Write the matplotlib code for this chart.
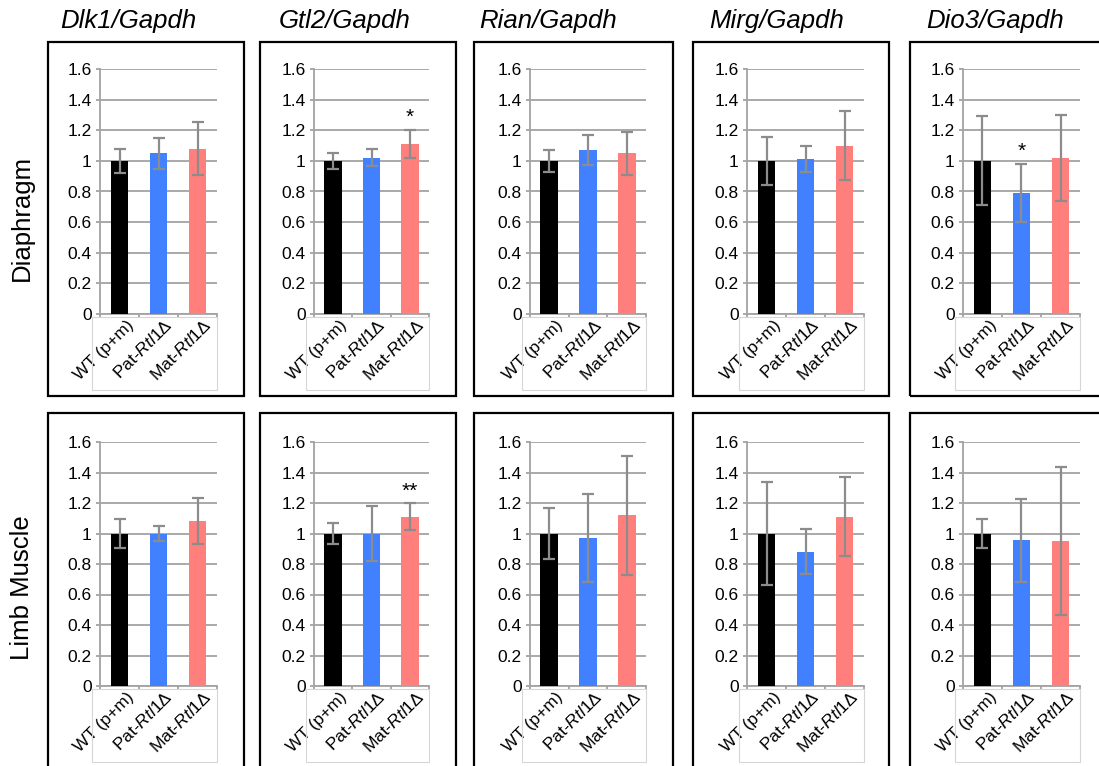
import matplotlib
matplotlib.use("Agg")
import matplotlib.pyplot as plt
from matplotlib.patches import Rectangle
import numpy as np

plt.rcParams['font.family'] = ['Liberation Sans', 'DejaVu Sans']
plt.rcParams['mathtext.fontset'] = 'custom'
plt.rcParams['mathtext.rm'] = 'Liberation Sans'
plt.rcParams['mathtext.it'] = 'Liberation Sans:italic'

genes = ['Dlk1', 'Gtl2', 'Rian', 'Mirg', 'Dio3']
tissues = ['Diaphragm', 'Limb Muscle']
groups = ['WT (p+m)', 'Pat-$\\it{Rtl1}$\u0394', 'Mat-$\\it{Rtl1}$\u0394']
bar_colors = ['#000000', '#4181FF', '#FF7F7D']

diaphragm_means = [[1.00, 1.05, 1.08], [1.00, 1.02, 1.11], [1.00, 1.07, 1.05],
                   [1.00, 1.01, 1.10], [1.00, 0.79, 1.02]]
diaphragm_err = [[0.08, 0.10, 0.175], [0.05, 0.055, 0.09], [0.07, 0.10, 0.14],
                 [0.155, 0.085, 0.225], [0.29, 0.19, 0.28]]
diaphragm_sig = [['', '', ''], ['', '', '*'], ['', '', ''], ['', '', ''], ['', '*', '']]

limb_means = [[1.00, 1.00, 1.08], [1.00, 1.00, 1.11], [1.00, 0.97, 1.12],
              [1.00, 0.88, 1.11], [1.00, 0.955, 0.95]]
limb_err = [[0.095, 0.048, 0.15], [0.07, 0.18, 0.088], [0.17, 0.29, 0.39],
            [0.335, 0.147, 0.258], [0.096, 0.27, 0.487]]
limb_sig = [['', '', ''], ['', '', '**'], ['', '', ''], ['', '', ''], ['', '', '']]

yticks = [0, 0.2, 0.4, 0.6, 0.8, 1, 1.2, 1.4, 1.6]
ytick_labels = ['0', '0.2', '0.4', '0.6', '0.8', '1', '1.2', '1.4', '1.6']

W, H = 1099, 766
fig = plt.figure(figsize=(W / 100, H / 100), dpi=100)

# layout in pixels
axis_x = [(100, 217), (314, 429), (530, 646), (747, 864), (963, 1080)]
row_y = [(69, 314), (442, 686)]
box_x = [(48, 244), (260, 456), (474, 673), (693, 889), (910, 1110)]
box_y = [(42, 396), (413, 780)]
title_x = [60, 279, 479, 709, 926]

grid_c = '#A3A3A3'
err_c = '#8C8C8C'

def fx(x):
    return x / W

def fy(y):
    return 1 - y / H

all_means = [diaphragm_means, limb_means]
all_err = [diaphragm_err, limb_err]
all_sig = [diaphragm_sig, limb_sig]

for r in range(2):
    for c in range(5):
        x0, x1 = axis_x[c]
        y0, y1 = row_y[r]
        ax = fig.add_axes([fx(x0), fy(y1), (x1 - x0) / W, (y1 - y0) / H])
        xs = np.arange(3)
        ax.bar(xs, all_means[r][c], width=0.46, color=bar_colors, zorder=3)
        ax.errorbar(xs, all_means[r][c], yerr=all_err[r][c], fmt='none',
                    ecolor=err_c, elinewidth=1.6, capsize=4.5, capthick=1.6, zorder=4)
        for i in range(3):
            s = all_sig[r][c][i]
            if s:
                ax.annotate(s, (xs[i], all_means[r][c][i] + all_err[r][c][i]),
                            xytext=(0, 5), textcoords='offset points',
                            ha='center', va='baseline', fontsize=15, zorder=5)
        ax.set_xlim(-0.5, 2.5)
        ax.set_ylim(0, 1.6)
        ax.set_yticks(yticks)
        ax.set_yticklabels(ytick_labels, fontsize=12.5)
        ax.yaxis.grid(True, color=grid_c, linewidth=1.3, zorder=0)
        ax.set_axisbelow(True)
        for sp in ['top', 'right']:
            ax.spines[sp].set_visible(False)
        for sp in ['left', 'bottom']:
            ax.spines[sp].set_color(grid_c)
            ax.spines[sp].set_linewidth(1.3)
        ax.tick_params(axis='y', length=3, color=grid_c, width=1.3, pad=3)
        ax.set_xticks([-0.5, 0.5, 1.5, 2.5])
        ax.set_xticklabels([])
        ax.tick_params(axis='x', length=3, color=grid_c, width=1.3)
        for i, g in enumerate(groups):
            ax.text(i + 0.3, -0.035, g, transform=ax.get_xaxis_transform(),
                    rotation=45, rotation_mode='anchor', ha='right', va='center',
                    fontsize=12.5)
        # light label box
        fig.add_artist(Rectangle((fx(x0 - 8), fy(y1 + 76)), (x1 - x0 + 8) / W, 73 / H,
                                 transform=fig.transFigure, fill=False,
                                 edgecolor='#D6D6D6', linewidth=0.8))
        # panel frame
        bx0, bx1 = box_x[c]
        by0, by1 = box_y[r]
        fig.add_artist(Rectangle((fx(bx0), fy(by1)), (bx1 - bx0) / W, (by1 - by0) / H,
                                 transform=fig.transFigure, fill=False,
                                 edgecolor='black', linewidth=1.6))

for c, g in enumerate(genes):
    fig.text(fx(title_x[c]), fy(21), g + '/Gapdh', fontsize=18.5, style='italic',
             ha='left', va='center')

row_centers = [218, 588]
for r, t in enumerate(tissues):
    fig.text(fx(22), fy(row_centers[r]), t, rotation=90, fontsize=18.5,
             ha='center', va='center')

fig.savefig('out.png', dpi=100)
